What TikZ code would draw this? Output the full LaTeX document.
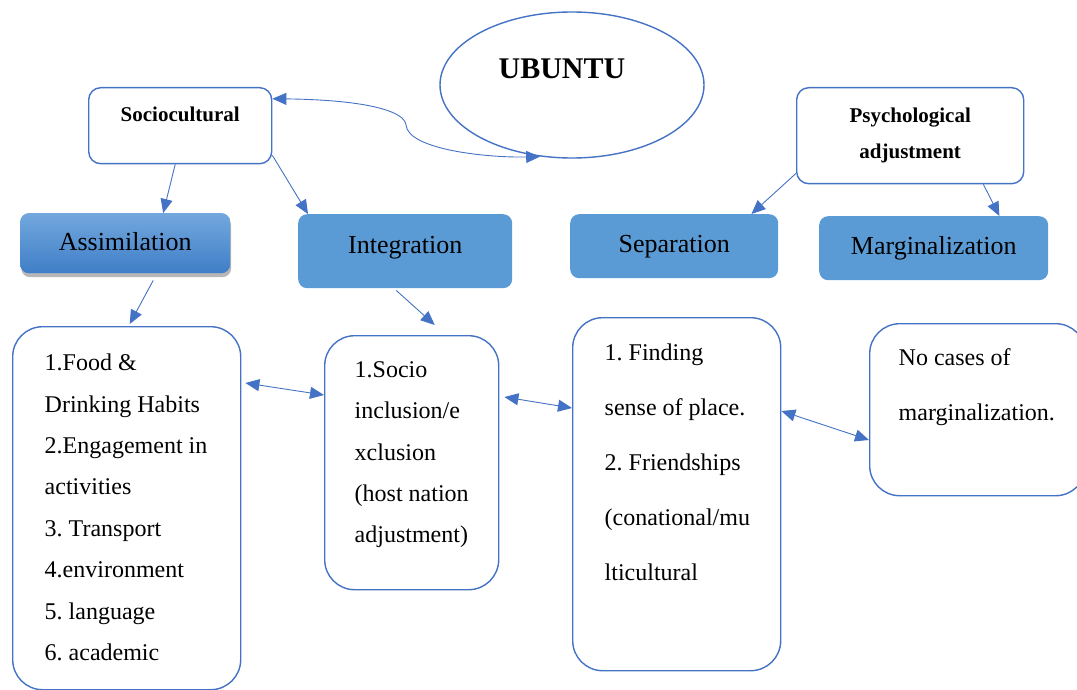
\documentclass[tikz,border=0pt]{standalone}
\usepackage{fontspec}
\setmainfont{Liberation Serif}
\usetikzlibrary{arrows.meta,shapes.geometric,shadows}
\definecolor{edgeblue}{HTML}{4472C4}
\definecolor{phaseblue}{HTML}{5B9BD5}
\definecolor{shadetop}{HTML}{72A8DD}
\definecolor{shadebot}{HTML}{3F7EC7}
\tikzset{>={Triangle[length=14pt,width=12pt]}}
\frenchspacing

\begin{document}
\begin{tikzpicture}[x=1pt,y=-1pt]

\tikzstyle{head}=[draw=edgeblue,line width=1.4pt,rounded corners=12pt,fill=white,
  anchor=north west,inner sep=0pt,align=center,
  font=\bfseries\fontsize{21}{36}\selectfont]
\tikzstyle{phase}=[fill=phaseblue,rounded corners=9pt,anchor=north west,
  inner sep=0pt,font=\fontsize{26}{30}\selectfont]
\tikzstyle{list}=[draw=edgeblue,line width=1.4pt,rounded corners=30pt,
  anchor=north west,inner ysep=0pt,align=flush left]
\tikzstyle{link}=[draw=edgeblue,line width=0.9pt,->]
\tikzstyle{both}=[draw=edgeblue,line width=0.9pt,<->]

  \useasboundingbox (0,0) rectangle (1077,690);

  \node[ellipse,draw=edgeblue,line width=1.4pt,
        minimum width=264pt,minimum height=146pt,inner sep=0pt,
        text height=20pt,text depth=32pt,
        font=\bfseries\fontsize{30}{36}\selectfont]
        (ubuntu) at (572,85) {UBUNTU\hspace*{20pt}};

  \node[head,text width=183pt,text height=34pt,text depth=42pt]
        (soc) at (88,87) {Sociocultural};
  \node[head,text width=227pt,text height=35pt,text depth=61pt]
        (psych) at (796,87) {Psychological\\adjustment};

  \node[phase,minimum width=210pt,text height=37pt,text depth=23pt,
        top color=shadetop,bottom color=shadebot,
        drop shadow={shadow xshift=1pt,shadow yshift=-4pt,opacity=0.4,fill=black!70}]
        (assim) at (20,213) {Assimilation};
  \node[phase,minimum width=214pt,text height=39pt,text depth=35pt]
        (integ) at (298,214) {Integration};
  \node[phase,minimum width=208pt,text height=38pt,text depth=26pt]
        (sep) at (570,214) {Separation};
  \node[phase,minimum width=229pt,text height=38pt,text depth=26pt]
        (marg) at (819,216) {Marginalization};

  \node[list,inner xsep=32pt,text width=164pt,text height=44pt,text depth=319pt,
        font=\fontsize{24}{41.4}\selectfont]
        (food) at (12,326)
        {1.Food \&\\Drinking Habits\\\mbox{2.Engagement in}\\activities\\3. Transport\\4.environment\\5. language\\6. academic};
  \node[list,inner xsep=30pt,text width=114pt,text height=42pt,text depth=212pt,
        font=\fontsize{24}{41.25}\selectfont]
        (socio) at (324,335)
        {1.Socio\\inclusion/e\\xclusion\\\mbox{(host nation}\\adjustment)};
  \node[list,inner xsep=32pt,text width=144pt,text height=43pt,text depth=310pt,
        font=\fontsize{24}{55}\selectfont]
        (place) at (572,317)
        {1. Finding\\sense of place.\\2. Friendships\\\mbox{(conational/mu}\\lticultural};
  \node[list,inner xsep=29pt,text width=158pt,text height=42pt,text depth=130pt,
        font=\fontsize{24}{55}\selectfont]
        (nocase) at (869,323) {No cases of\\marginalization.};

  \draw[link] ([xshift=-5pt]soc.south) -- ([xshift=38pt]assim.north);
  \draw[link] ([yshift=9pt]soc.south east) -- ([xshift=10pt]integ.north west);
  \draw[both] ([yshift=27pt]soc.east) .. controls (370,100) and (405,112) .. (406,125)
              .. controls (408,150) and (490,158) .. (ubuntu.-114);
  \draw[link] ([yshift=11pt]psych.south west) -- ([xshift=-27pt]sep.north east);
  \draw[link] ([xshift=-41pt]psych.south east) -- ([xshift=-49pt]marg.north east);
  \draw[link] ([xshift=28pt,yshift=-7pt]assim.south) -- ([xshift=3pt,yshift=2pt]food.north);
  \draw[link] ([xshift=-9pt,yshift=-2pt]integ.south) -- ([xshift=23pt,yshift=10pt]socio.north);
  \draw[both] ([xshift=4pt,yshift=-57pt]food.north east) -- ([yshift=-60pt]socio.north west);
  \draw[both] ([xshift=5pt,yshift=-62pt]socio.north east) -- ([yshift=-91pt]place.north west);
  \draw[both] ([yshift=-94pt]place.north east) -- ([yshift=-117pt]nocase.north west);

\end{tikzpicture}
\end{document}
